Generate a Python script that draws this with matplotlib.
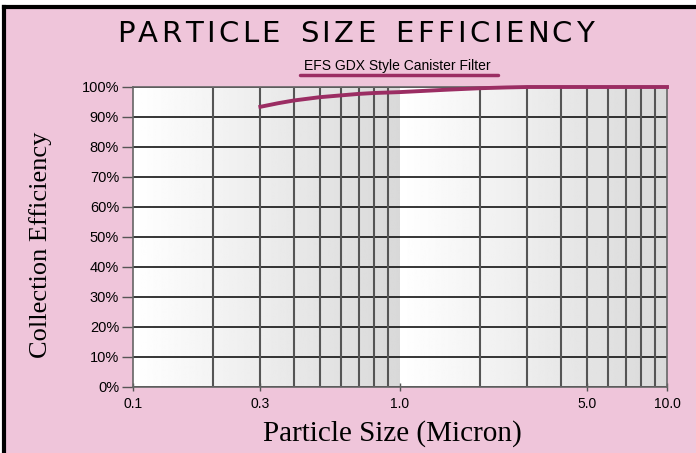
import numpy as np
import matplotlib.pyplot as plt

# curve
size_um = [0.3, 0.35, 0.4, 0.5, 0.6, 0.7, 0.8, 1.0, 1.5, 2.0, 2.5, 3.0, 5.0, 10.0]
efficiency = [93.4, 94.6, 95.5, 96.6, 97.2, 97.7, 98.0, 98.3, 99.1, 99.6, 99.85, 100.0, 100.0, 100.0]

xtick_vals = [0.1, 0.3, 1.0, 5.0, 10.0]
xtick_labels = ["0.1", "0.3", "1.0", "5.0", "10.0"]
ytick_vals = list(range(0, 101, 10))
ytick_labels = [str(v) + "%" for v in ytick_vals]

title = "PARTICLE SIZE EFFICIENCY"
subtitle = "EFS GDX Style Canister Filter"

pink = "#efc5da"
maroon = "#9b2d63"

W, H = 696, 453
fig = plt.figure(figsize=(W / 100, H / 100), dpi=100)
fig.patch.set_facecolor("white")

# pink panel with black edge on top and left
panel = plt.Rectangle((0.006, 0), 1.0, 0.984, transform=fig.transFigure,
                      facecolor=pink, edgecolor="none", zorder=0)
fig.add_artist(panel)
fig.add_artist(plt.Line2D([0.006, 0.006], [0, 0.984], transform=fig.transFigure,
                          color="black", lw=3))
fig.add_artist(plt.Line2D([0.006, 1.0], [0.984, 0.984], transform=fig.transFigure,
                          color="black", lw=3))

ax = fig.add_axes([133 / W, 1 - 387 / H, 534 / W, 300 / H])
ax.set_xscale("log")
ax.set_xlim(0.1, 10)
ax.set_ylim(0, 100)

# white-to-gray gradient inside each decade
grad = np.linspace(1.0, 0.85, 256).reshape(1, -1)
for x0 in [0.0, 0.5]:
    ax.imshow(grad, cmap="gray", vmin=0, vmax=1, aspect="auto",
              extent=[x0, x0 + 0.5, 0, 1], transform=ax.transAxes, zorder=0)

# grid
for v in ytick_vals:
    ax.axhline(v, color="black", lw=1.1, zorder=1)
for dec in [0.1, 1.0]:
    for m in range(2, 10):
        ax.axvline(dec * m, color="#555555", lw=1.5, zorder=1)

ax.plot(size_um, efficiency, color=maroon, lw=2.8, clip_on=False, zorder=3)

ax.set_xticks(xtick_vals)
ax.set_xticklabels(xtick_labels, fontsize=10, family="Liberation Sans")
ax.minorticks_off()
ax.set_yticks(ytick_vals)
ax.set_yticklabels(ytick_labels, fontsize=10.5, family="Liberation Sans")
ax.tick_params(axis="y", length=8, width=1, color="#555555", pad=2)
ax.tick_params(axis="x", length=6, width=1, color="#555555", direction="inout", pad=4)
for s in ax.spines.values():
    s.set_color("#666666")
    s.set_linewidth(1.2)

ax.set_xlabel("Particle Size (Micron)", family="Liberation Serif", fontsize=21)
ax.xaxis.set_label_coords((392 - 133) / 534, -(434 - 387) / 300)
ax.xaxis.label.set_va("center")
ax.set_ylabel("Collection Efficiency", family="Liberation Serif", fontsize=19)
ax.yaxis.set_label_coords(-(133 - 41) / 534, (387 - 245) / 300)
ax.yaxis.label.set_va("center")

# title with wide letter spacing, placed one letter at a time
renderer = fig.canvas.get_renderer()
title_size = 21
spacing = 3.4
x_px = 117.0
t_ref = fig.text(0, 0, "n", fontsize=title_size, family="DejaVu Sans")
space_w = t_ref.get_window_extent(renderer).width * 0.7
t_ref.remove()
for ch in title:
    if ch == " ":
        x_px += space_w + spacing
        continue
    t = fig.text(x_px / W, 1 - 34 / H, ch, ha="left", va="center",
                 fontsize=title_size, family="DejaVu Sans")
    x_px += t.get_window_extent(renderer).width + spacing

fig.text(397 / W, 1 - 66 / H, subtitle, ha="center", va="center",
         fontsize=10, family="Liberation Sans")
fig.add_artist(plt.Line2D([300 / W, 498 / W], [1 - 75 / H, 1 - 75 / H],
                          transform=fig.transFigure, color=maroon, lw=2.5,
                          solid_capstyle="round"))

plt.savefig("out.png", dpi=100, facecolor=fig.get_facecolor())
